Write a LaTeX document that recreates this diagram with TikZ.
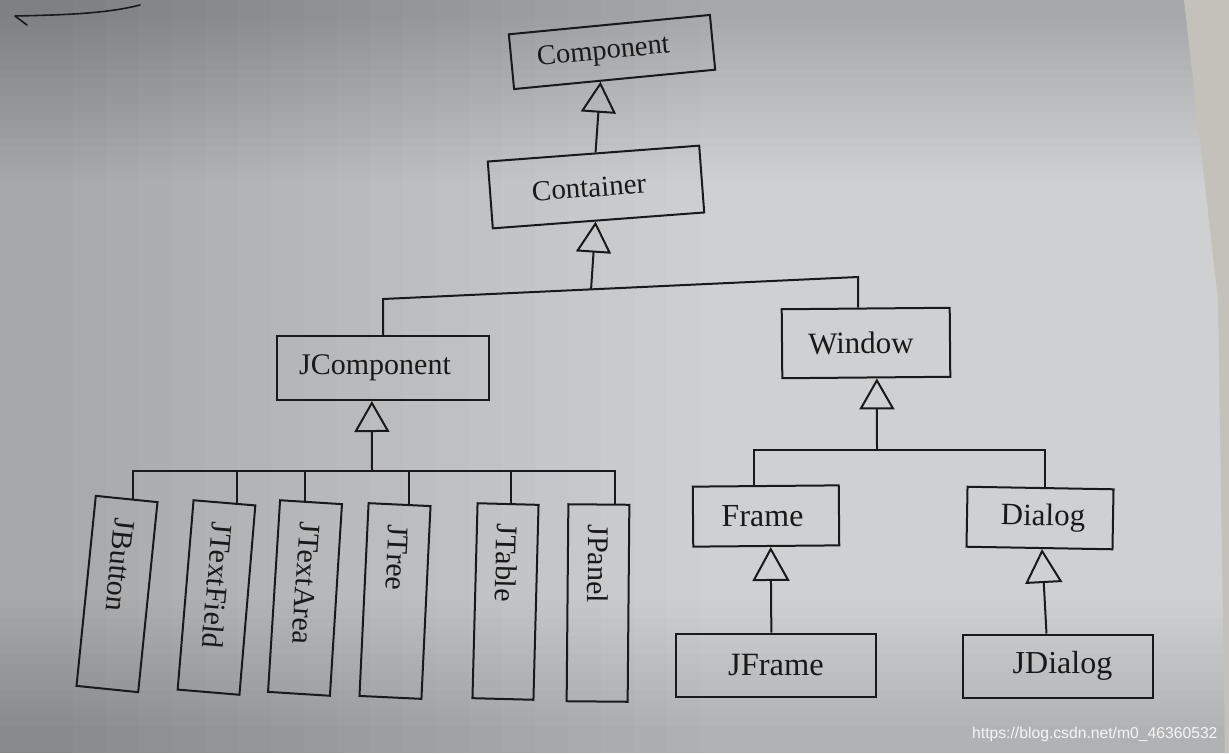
\documentclass[tikz,border=0pt]{standalone}
\usepackage{fontspec}
\setmainfont{Liberation Serif}
\newfontfamily\wmfont{Liberation Sans}
\usetikzlibrary{arrows.meta,calc}
\definecolor{ink}{RGB}{25,25,25}
\definecolor{paper}{RGB}{207,208,210}
\definecolor{edge}{RGB}{196,193,186}
\begin{document}
\begin{tikzpicture}[x=1pt,y=-1pt,
  ln/.style={line width=2pt, draw=ink},
  box/.style={ln, inner sep=0pt, text=ink, font=\fontsize{30}{30}\selectfont},
  fs/.style={font=\fontsize{#1}{#1}\selectfont},
  vbox/.style={box, align=left, inner xsep=20pt, inner ysep=0pt},
  inh/.style={ln, -{Triangle[open, length=31pt, width=35pt, line width=2pt]}}]
\useasboundingbox (0,0) rectangle (1229,753);
\fill[paper] (0,0) rectangle (1229,753);
\foreach \i in {0,...,19} \fill[black, opacity=0.008] (0,0) rectangle ({700-33*\i},753);
\foreach \i in {0,...,19} \fill[black, opacity=0.009] (0,0) rectangle (1229,{180-8.5*\i});
\foreach \i in {0,...,14} \fill[black, opacity=0.006] (0,{600+9*\i}) rectangle (1229,753);
\fill[edge] (1184,0) -- (1229,0) -- (1229,753) -- (1225,753) -- (1218,300) -- cycle;
% pen stroke at top left
\draw[ink, line width=1.6pt, line cap=round, line join=round] (27,25) -- (15,16) .. controls (60,15) and (105,14) .. (140,5);
% boxes
\node[box, fs=28.5, rotate=5.5, minimum width=202pt, minimum height=55pt] (Component) at (612,52) {\hspace*{-17pt}Component};
\node[box, fs=29, rotate=4.3, minimum width=212pt, minimum height=67pt] (Container) at (596,187) {\hspace*{-14pt}Container};
\node[box, fs=30, minimum width=212pt, minimum height=64pt] (JComponent) at (383,368) {\hspace*{-16pt}JComponent};
\node[box, fs=31, rotate=0.5, minimum width=168pt, minimum height=69pt] (Window) at (866,343) {\hspace*{-10pt}Window};
\node[box, fs=32, rotate=0.5, minimum width=146pt, minimum height=60pt] (Frame) at (766,516) {\hspace*{-7pt}Frame};
\node[box, fs=31, rotate=-1, minimum width=146pt, minimum height=60pt] (Dialog) at (1040,518) {\hspace*{6pt}Dialog};
\node[box, fs=32.5, minimum width=200pt, minimum height=63pt] (JFrame) at (776,665) {JFrame};
\node[box, fs=32, minimum width=190pt, minimum height=63pt] (JDialog) at (1058,666) {\hspace*{9pt}JDialog};
\node[vbox, rotate=-95.8, minimum height=62pt, text width=151pt] (JButton) at (117,594) {JButton};
\node[vbox, rotate=-94.8, minimum height=62pt, text width=150pt] (JTextField) at (216.5,597.5) {JTextField};
\node[vbox, rotate=-93.6, minimum height=62pt, text width=152pt] (JTextArea) at (305,598) {JTextArea};
\node[vbox, rotate=-92.7, minimum height=62pt, text width=153pt] (JTree) at (395,601) {JTree};
\node[vbox, rotate=-91.5, minimum height=61pt, text width=155pt] (JTable) at (505.5,601.5) {JTable};
\node[vbox, rotate=-90.5, minimum height=61pt, text width=157pt] (JPanel) at (598,603) {JPanel};
% Component <- Container
\draw[inh] ($(Container.north west)!0.51!(Container.north east)$) -- ($(Component.south west)!0.43!(Component.south east)$);
% Container <- JComponent, Window
\coordinate (bL) at (383,299);
\coordinate (bR) at (858,277);
\coordinate (bM) at ($(bL)!0.438!(bR)$);
\draw[ln] (bL |- JComponent.north) -- (bL) -- (bR) -- (bR |- Window.north);
\draw[inh] (bM) -- ($(Container.south west)!0.486!(Container.south east)$);
% JComponent <- J... boxes
\coordinate (b2) at (372,471);
\coordinate (d1) at ($(JButton.south west)!0.6!(JButton.north west)$);
\coordinate (d2) at ($(JTextField.south west)!0.69!(JTextField.north west)$);
\coordinate (d3) at ($(JTextArea.south west)!0.4!(JTextArea.north west)$);
\coordinate (d4) at ($(JTree.south west)!0.64!(JTree.north west)$);
\coordinate (d5) at ($(JTable.south west)!0.55!(JTable.north west)$);
\coordinate (d6) at ($(JPanel.south west)!0.75!(JPanel.north west)$);
\draw[ln] (d1) -- (d1 |- b2) -- (d6 |- b2) -- (d6);
\foreach \d in {d2,d3,d4,d5} \draw[ln] (\d) -- (\d |- b2);
\draw[inh] (b2) -- ($(JComponent.south west)!0.448!(JComponent.south east)$);
% Window <- Frame, Dialog
\coordinate (b3) at (877,450);
\coordinate (f1) at ($(Frame.north west)!0.418!(Frame.north east)$);
\coordinate (f2) at ($(Dialog.north west)!0.527!(Dialog.north east)$);
\draw[ln] (f1) -- (f1 |- b3) -- (f2 |- b3) -- (f2);
\draw[inh] (b3) -- ($(Window.south west)!0.562!(Window.south east)$);
% Frame <- JFrame, Dialog <- JDialog
\draw[inh, -{Triangle[open, length=34pt, width=37pt, line width=2pt]}] ($(JFrame.north west)!0.477!(JFrame.north east)$) -- ($(Frame.south west)!0.53!(Frame.south east)$);
\draw[inh, -{Triangle[open, length=34pt, width=37pt, line width=2pt]}] ($(JDialog.north west)!0.44!(JDialog.north east)$) -- ($(Dialog.south west)!0.517!(Dialog.south east)$);
% watermark
\node[font=\wmfont\fontsize{15.7}{16}\selectfont, text=white!92!gray, anchor=west, inner sep=0pt] (wm) at (972,734) {https://blog.csdn.net/m0\_46360532};
\end{tikzpicture}
\end{document}
